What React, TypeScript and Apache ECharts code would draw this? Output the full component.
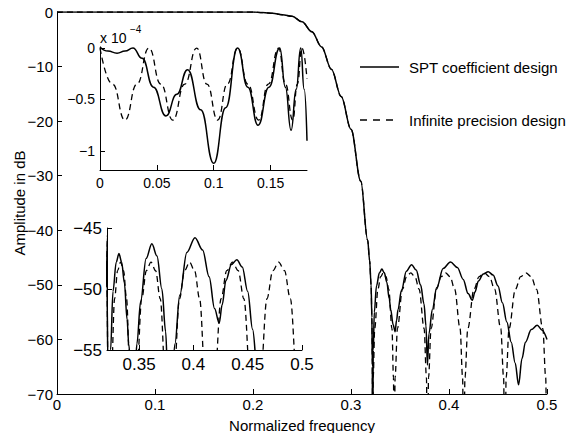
import React, { useEffect, useRef } from "react";
import * as echarts from "echarts";

// ---- Main chart: passband + transition band (shared by both designs), dB
const transX = [0, 0.1, 0.2, 0.21, 0.22, 0.23, 0.24, 0.25, 0.26, 0.27, 0.28, 0.29, 0.3, 0.31, 0.317, 0.319, 0.3205, 0.3213, 0.3218, 0.322];
const transDb = [0, 0, 0, -0.1, -0.25, -0.5, -0.8, -1.8, -3.6, -6.4, -10.5, -15.5, -21.5, -31, -41.8, -45.5, -50, -56, -65, -90];

// ---- Stopband, infinite precision design (dashed), dB
const infStopX = [
  0.32266, 0.3242, 0.3275, 0.33025, 0.333, 0.33575, 0.3385, 0.3418, 0.34334, 0.344,
  0.345, 0.3474, 0.3525, 0.35675, 0.361, 0.36525, 0.3695, 0.3746, 0.377, 0.378,
  0.3791, 0.3817, 0.38725, 0.39188, 0.3965, 0.40113, 0.40575, 0.4113, 0.4139, 0.415,
  0.41626, 0.4192, 0.4255, 0.43075, 0.436, 0.44125, 0.4465, 0.4528, 0.45574, 0.457,
  0.45829, 0.4613, 0.46775, 0.47313, 0.4785, 0.48388, 0.48925, 0.4957, 0.4987, 0.5,
];
const infStopDb = [
  -67, -58, -50.8, -48.5, -47.8, -48.5, -50.8, -58, -67, -90,
  -67, -58, -50.8, -48.5, -47.8, -48.5, -50.8, -58, -67, -90,
  -67, -58, -50.8, -48.5, -47.8, -48.5, -50.8, -58, -67, -90,
  -67, -58, -50.8, -48.5, -47.8, -48.5, -50.8, -58, -67, -90,
  -67, -58, -50.8, -48.5, -47.8, -48.5, -50.8, -58, -67, -90,
];

// ---- Stopband, SPT coefficient design (solid), dB
const sptStopX = [
  0.3227, 0.3238, 0.326, 0.329, 0.3315, 0.334, 0.3365, 0.339, 0.3405, 0.343, 0.345,
  0.3465, 0.348, 0.3515, 0.3565, 0.3618, 0.3665, 0.371, 0.3745, 0.3765, 0.378,
  0.3795, 0.383, 0.3875, 0.394, 0.4015, 0.4085, 0.4145, 0.4195, 0.4238,
  0.4265, 0.43, 0.435, 0.44, 0.445, 0.45, 0.4545, 0.459, 0.4635, 0.4675, 0.471,
  0.4745, 0.478, 0.484, 0.49, 0.495, 0.5,
];
const sptStopDb = [
  -62, -55, -50.2, -47.8, -47.1, -47.8, -49.5, -52.5, -54.5, -57.3, -58.6,
  -56.5, -54.5, -51, -47.5, -46.3, -47.3, -50, -53.5, -57.5, -64.7,
  -59, -54.5, -50.5, -47, -45.8, -46.8, -49, -51.6, -52.8,
  -51.3, -49.3, -48, -47.6, -48.2, -50.2, -53.3, -56.8, -60.5, -64.3, -68.3,
  -63.5, -60.5, -58.2, -57.4, -58.3, -60,
];

// ---- Passband ripple (x 1e-4 dB)
const infPassX = [0, 0.011, 0.022, 0.0325, 0.043, 0.0535, 0.064, 0.0745, 0.085, 0.094, 0.1035, 0.112, 0.121, 0.13, 0.1395, 0.148, 0.157, 0.163, 0.1695, 0.1735, 0.1775, 0.182];
const infPassRip = [0, -0.35, -0.7, -0.35, 0, -0.35, -0.7, -0.35, 0, -0.35, -0.7, -0.35, 0, -0.35, -0.7, -0.35, 0, -0.35, -0.7, -0.35, 0, -0.3];
const sptPassX = [0, 0.007, 0.015, 0.022, 0.029, 0.037, 0.047, 0.058, 0.0675, 0.077, 0.0885, 0.1, 0.1105, 0.121, 0.13, 0.139, 0.1485, 0.158, 0.163, 0.168, 0.1725, 0.1765, 0.1795, 0.182];
const sptPassRip = [0.01, -0.03, -0.05, -0.03, 0, -0.1, -0.38, -0.66, -0.45, -0.21, -0.6, -1.12, -0.58, 0, -0.38, -0.75, -0.38, 0, -0.38, -0.8, -0.4, 0, -0.4, -0.9];

// ---- Tick labels
const passXTicks = [0, 0.05, 0.1, 0.15];
const passYTicks = [0, -0.5, -1];
const stopXTicks = [0.35, 0.4, 0.45, 0.5];

const legendNames = ["SPT coefficient design", "Infinite precision design"];

const FONT = '"Liberation Sans", Arial, Helvetica, sans-serif';
const minus = (v: number | string) => String(v).replace(/-/g, "\u2212");
const pairs = (xs: number[], ys: number[]) => xs.map((x, i) => [x, ys[i]]);

function axis(gridIndex: number, o: any, fontSize: number, margin: number) {
  const { customValues, ...rest } = o;
  return {
    type: "value",
    gridIndex,
    ...rest,
    axisLine: { show: true, onZero: false, lineStyle: { color: "#000", width: 1 } },
    axisTick: { show: true, inside: true, length: 5, lineStyle: { color: "#000" }, ...(customValues ? { customValues } : {}) },
    axisLabel: {
      color: "#000",
      fontSize,
      fontFamily: FONT,
      margin,
      formatter: (v: number) => minus(v),
      ...(customValues ? { customValues } : {}),
    },
    splitLine: { show: false },
  };
}

export default function App() {
  const ref = useRef<HTMLDivElement>(null);
  useEffect(() => {
    const chart = echarts.init(ref.current!, null, { renderer: "svg" });
    const solidFull = [...pairs(transX, transDb), ...pairs(sptStopX, sptStopDb)];
    const dashFull = [...pairs(transX, transDb), ...pairs(infStopX, infStopDb)];
    const solid = { color: "#000", width: 1.5, type: "solid" };
    const dashed = { color: "#000", width: 1.3, type: [6, 4] };
    const line = (x: number, data: any[], ls: any, z: number, sm: number) => ({
      type: "line",
      xAxisIndex: x,
      yAxisIndex: x,
      data,
      showSymbol: false,
      smooth: sm,
      smoothMonotone: "x",
      clip: true,
      lineStyle: ls,
      z,
    });
    chart.setOption({
      animation: false,
      backgroundColor: "#fff",
      grid: [
        { left: 57, top: 12, width: 490, height: 382 },
        { left: 100, top: 47, width: 207, height: 123 },
        { left: 107, top: 228, width: 195, height: 122 },
      ],
      xAxis: [
        axis(0, { min: 0, max: 0.5, interval: 0.1 }, 15, 3),
        axis(1, { min: 0, max: 0.182, customValues: passXTicks }, 14, 6),
        axis(2, { min: 0.3205, max: 0.5, customValues: stopXTicks }, 17, 6),
      ],
      yAxis: [
        axis(0, { min: -70, max: 0, interval: 10 }, 15, 4),
        axis(1, { min: -1.185, max: 0.01, customValues: passYTicks }, 14, 5),
        axis(2, { min: -55, max: -45, interval: 5 }, 17, 5),
      ],
      series: [
        line(0, dashFull, dashed, 2, 0.35),
        line(0, solidFull, solid, 3, 0.35),
        line(1, pairs(infPassX, infPassRip), dashed, 2, 0.5),
        line(1, pairs(sptPassX, sptPassRip), solid, 3, 0.5),
        line(2, dashFull, dashed, 2, 0.35),
        line(2, solidFull, solid, 3, 0.35),
      ],
      graphic: [
        { type: "text", x: 302, y: 425, style: { text: "Normalized frequency", font: `15px ${FONT}`, fill: "#000", align: "center", verticalAlign: "middle" } },
        { type: "text", x: 19, y: 203, rotation: Math.PI / 2, style: { text: "Amplitude in dB", font: `15px ${FONT}`, fill: "#000", align: "center", verticalAlign: "middle" } },
        { type: "text", x: 100, y: 38, style: { text: "x 10", font: `14px ${FONT}`, fill: "#000", align: "left", verticalAlign: "middle" } },
        { type: "text", x: 130, y: 29, style: { text: "\u22124", font: `10px ${FONT}`, fill: "#000", align: "left", verticalAlign: "middle" } },
        { type: "line", shape: { x1: 360, y1: 67, x2: 399, y2: 67 }, style: { stroke: "#000", lineWidth: 1.5 } },
        { type: "text", x: 409, y: 67, style: { text: legendNames[0], font: `15px ${FONT}`, fill: "#000", align: "left", verticalAlign: "middle" } },
        { type: "line", shape: { x1: 360, y1: 120, x2: 399, y2: 120 }, style: { stroke: "#000", lineWidth: 1.3, lineDash: [7, 6] } },
        { type: "text", x: 409, y: 120, style: { text: legendNames[1], font: `15px ${FONT}`, fill: "#000", align: "left", verticalAlign: "middle" } },
      ],
    });
    return () => chart.dispose();
  }, []);
  return <div ref={ref} style={{ position: "fixed", left: 0, top: 0, width: 571, height: 433 }} />;
}
